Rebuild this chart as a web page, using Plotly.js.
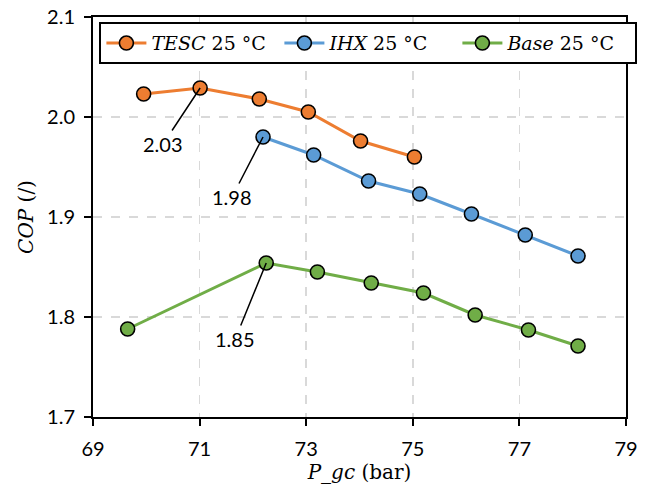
<!DOCTYPE html>
<html><head><meta charset="utf-8">
<script src="https://cdn.plot.ly/plotly-3.0.1.min.js"></script>
<style>html,body{margin:0;padding:0;background:#fff}#c{width:651px;height:485px}</style>
</head><body><div id="c"></div>
<script>
const tescP = [69.95, 71.01, 72.12, 73.04, 74.02, 75.03];
const tescCOP = [2.023, 2.029, 2.018, 2.005, 1.976, 1.960];
const ihxP = [72.19, 73.14, 74.17, 75.13, 76.10, 77.11, 78.10];
const ihxCOP = [1.980, 1.962, 1.936, 1.923, 1.903, 1.882, 1.861];
const baseP = [69.65, 72.25, 73.21, 74.22, 75.20, 76.17, 77.17, 78.10];
const baseCOP = [1.788, 1.854, 1.845, 1.834, 1.824, 1.802, 1.787, 1.771];
const seriesNames = ["TESC", "IHX", "Base"];
const colors = ["#ED7D31", "#5B9BD5", "#70AD47"];
const peakLabels = [{x: 71.01, y: 2.029, t: "2.03", ax: -37, ay: 56},
                    {x: 72.19, y: 1.980, t: "1.98", ax: -31, ay: 60},
                    {x: 72.25, y: 1.854, t: "1.85", ax: -31, ay: 76}];

const xs = [tescP, ihxP, baseP], ys = [tescCOP, ihxCOP, baseCOP];
const traces = seriesNames.map((n, i) => ({
  x: xs[i], y: ys[i], type: 'scatter', mode: 'lines+markers',
  name: '<i>' + n + '</i> 25 °C',
  line: {color: colors[i], width: 3},
  marker: {color: colors[i], size: 14, line: {color: '#000', width: 1.6}}
}));

const tickFont = {family: 'Lato, "Open Sans", sans-serif', size: 20, color: '#000'};
const serif = '"DejaVu Serif", serif';
const layout = {
  width: 651, height: 485,
  margin: {l: 93, r: 25, t: 17, b: 68},
  paper_bgcolor: '#fff', plot_bgcolor: '#fff',
  showlegend: true,
  legend: {orientation: 'h', x: 0.012, y: 0.987, xanchor: 'left', yanchor: 'top',
    bordercolor: '#000', borderwidth: 2, bgcolor: '#fff',
    font: {family: serif, size: 19, color: '#000'},
    entrywidth: 123, entrywidthmode: 'pixels', itemwidth: 40},
  xaxis: {range: [69, 79], dtick: 2, tick0: 69, showgrid: true,
    gridcolor: '#d9d9d9', griddash: 'dash', gridwidth: 1.5,
    showline: true, linecolor: '#000', linewidth: 2, mirror: true,
    ticks: 'outside', ticklen: 7, tickcolor: '#000', tickwidth: 2,
    ticklabelstandoff: 6,
    zeroline: false, tickfont: tickFont,
    title: {text: '<i>P_gc</i> (bar)', font: {family: serif, size: 20, color: '#000'}, standoff: 2}},
  yaxis: {range: [1.7, 2.1], dtick: 0.1, tickformat: '.1f', showgrid: true,
    gridcolor: '#d9d9d9', griddash: 'dash', gridwidth: 1.5,
    showline: true, linecolor: '#000', linewidth: 2, mirror: true,
    ticks: 'outside', ticklen: 7, tickcolor: '#000', tickwidth: 2,
    ticklabelstandoff: 5,
    zeroline: false, tickfont: tickFont,
    title: {text: '<i>COP</i> (/)', font: {family: serif, size: 20, color: '#000'}, standoff: 8}},
  annotations: peakLabels.map(p => ({x: p.x, y: p.y, xref: 'x', yref: 'y', text: p.t,
    showarrow: true, arrowhead: 0, arrowwidth: 1.5, arrowcolor: '#000', ax: p.ax, ay: p.ay,
    standoff: 0, font: {family: 'Lato, "Open Sans", sans-serif', size: 20, color: '#000'}}))
};
Plotly.newPlot('c', traces, layout, {displayModeBar: false, staticPlot: true});
</script></body></html>
